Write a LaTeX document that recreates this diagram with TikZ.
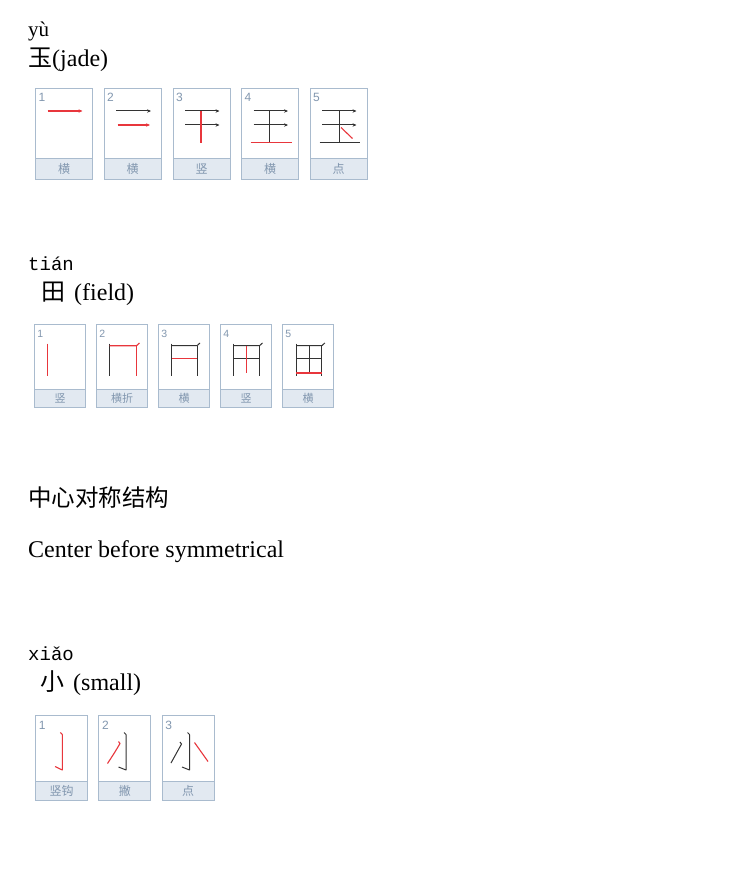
\documentclass[tikz,border=0pt]{standalone}
\usepackage{fontspec}
\setmainfont{Liberation Serif}
\newfontfamily\cjk{Noto Sans CJK SC}
\newfontfamily\pinyinfont{Liberation Mono}
\newfontfamily\numfont{Liberation Sans}
\usetikzlibrary{arrows.meta}

\definecolor{framecol}{HTML}{A9BBCE}
\definecolor{bandcol}{HTML}{E2E9F1}
\definecolor{labcol}{HTML}{8297AF}
\definecolor{inkred}{HTML}{E8363C}
\definecolor{inkblack}{HTML}{333333}

\begin{document}
\begin{tikzpicture}[x=1pt, y=-1pt,
    card/.style={draw=framecol, fill=white, line width=0.9pt, inner sep=0pt, outer sep=0pt},
    band/.style={draw=framecol, fill=bandcol, line width=0.9pt, inner sep=0pt, outer sep=0pt, text=labcol},
    num/.style={anchor=north west, inner sep=0pt, text=labcol, font=\numfont\fontsize{12}{12}\selectfont},
    head/.style={anchor=base west, inner sep=0pt, font=\fontsize{24}{24}\selectfont},
    redink/.style={draw=inkred, line width=1.1pt},
    blackink/.style={draw=inkblack, line width=1pt},
    tip/.style={-{Stealth[length=4pt, width=3.4pt]}}]
    \useasboundingbox (0,0) rectangle (740,872);
    % 玉 (jade)
    \node [anchor=base west, inner sep=0pt, font=\fontsize{21}{21}\selectfont] (yuPy) at (28,37) {yù};
    \node [head] (yuHead) at (28,67) {{\cjk 玉}(jade)};
    \begin{scope}[every node/.append style={minimum width=57pt}, font=\cjk\fontsize{12}{12}\selectfont]
    \node [card, minimum height=91pt] (yu1) at (64,133.5) {};
    \node [card, minimum height=91pt] (yu2) at (132.5,133.5) {};
    \node [card, minimum height=91pt] (yu3) at (201.5,133.5) {};
    \node [card, minimum height=91pt] (yu4) at (270,133.5) {};
    \node [card, minimum height=91pt] (yu5) at (338.5,133.5) {};
    \node [band, minimum height=21pt, anchor=south] (yu1b) at (yu1.south) {横};
    \node [band, minimum height=21pt, anchor=south] (yu2b) at (yu2.south) {横};
    \node [band, minimum height=21pt, anchor=south] (yu3b) at (yu3.south) {竖};
    \node [band, minimum height=21pt, anchor=south] (yu4b) at (yu4.south) {横};
    \node [band, minimum height=21pt, anchor=south] (yu5b) at (yu5.south) {点};
    \end{scope}
    \node [num] at ([shift={(3,5)}]yu1.north west) {1};
    \node [num] at ([shift={(3,5)}]yu2.north west) {2};
    \node [num] at ([shift={(3,5)}]yu3.north west) {3};
    \node [num] at ([shift={(3,5)}]yu4.north west) {4};
    \node [num] at ([shift={(3,5)}]yu5.north west) {5};
    % yu strokes
    \draw [redink, tip]   (47.5,111) -- (82.5,111);
    \draw [blackink, tip] (116,111) -- (151,111);
    \draw [redink, tip]   (117.5,125) -- (150,125);
    \draw [blackink, tip] (185,111) -- (219.5,111);
    \draw [blackink, tip] (185,125) -- (219.5,125);
    \draw [redink]        (201,111.5) -- (201,142.5);
    \draw [blackink, tip] (253.5,111) -- (288,111);
    \draw [blackink, tip] (253.5,125) -- (288,125);
    \draw [blackink]      (269.5,111) -- (269.5,142);
    \draw [redink]        (250.5,142.5) -- (291.5,142.5);
    \draw [blackink, tip] (322,111) -- (356.5,111);
    \draw [blackink, tip] (322,125) -- (356.5,125);
    \draw [blackink]      (339.5,111) -- (339.5,142);
    \draw [blackink]      (319.5,142.5) -- (359.5,142.5);
    \draw [redink]        (341,127.5) -- (352.5,138.5);

    % 田 (field)
    \node [anchor=base west, inner sep=0pt, font=\pinyinfont\fontsize{19}{19}\selectfont] (tianPy) at (28,270) {tián};
    \node [head] (tianHead) at (28,300) {\hspace*{13pt}{\cjk 田}\hspace{9pt}(field)};
    \begin{scope}[every node/.append style={minimum width=51.5pt}, font=\cjk\fontsize{11}{11}\selectfont]
    \node [card, minimum height=83pt] (tian1) at (60,366) {};
    \node [card, minimum height=83pt] (tian2) at (122,366) {};
    \node [card, minimum height=83pt] (tian3) at (184,366) {};
    \node [card, minimum height=83pt] (tian4) at (246,366) {};
    \node [card, minimum height=83pt] (tian5) at (308,366) {};
    \node [band, minimum height=18pt, anchor=south] (tian1b) at (tian1.south) {竖};
    \node [band, minimum height=18pt, anchor=south] (tian2b) at (tian2.south) {横折};
    \node [band, minimum height=18pt, anchor=south] (tian3b) at (tian3.south) {横};
    \node [band, minimum height=18pt, anchor=south] (tian4b) at (tian4.south) {竖};
    \node [band, minimum height=18pt, anchor=south] (tian5b) at (tian5.south) {横};
    \end{scope}
    \begin{scope}[num/.append style={font=\numfont\fontsize{10.5}{10.5}\selectfont}]
    \node [num] at ([shift={(3,5.5)}]tian1.north west) {1};
    \node [num] at ([shift={(3,5.5)}]tian2.north west) {2};
    \node [num] at ([shift={(3,5.5)}]tian3.north west) {3};
    \node [num] at ([shift={(3,5.5)}]tian4.north west) {4};
    \node [num] at ([shift={(3,5.5)}]tian5.north west) {5};
    \end{scope}
    % tian strokes
    \draw [redink]   (47.7,343.5) -- (47.7,375.5);
    \draw [blackink] (109.7,343.5) -- (109.7,375.5);
    \draw [redink]   (109.7,345.7) -- (136.5,345.7) -- (139.5,343);
    \draw [redink]   (136.5,345.7) -- (136.5,375.5);
    \draw [blackink] (171.7,343.5) -- (171.7,375.5);
    \draw [blackink] (171.7,345.7) -- (197,345.7) -- (200,343);
    \draw [blackink] (197,345.7) -- (197,375.5);
    \draw [redink]   (171.7,358.7) -- (197,358.7);
    \draw [blackink] (233.7,343.5) -- (233.7,375.5);
    \draw [blackink] (233.7,345.7) -- (259.5,345.7) -- (262.5,343);
    \draw [blackink] (259.5,345.7) -- (259.5,375.5);
    \draw [blackink] (233.7,358.7) -- (259.5,358.7);
    \draw [redink]   (246.7,345.7) -- (246.7,372.7);
    \draw [blackink] (296,343.5) -- (296,375.5);
    \draw [blackink] (296,345.7) -- (321.8,345.7) -- (324.8,343);
    \draw [blackink] (321.8,345.7) -- (321.8,375.5);
    \draw [blackink] (296,358.7) -- (321.8,358.7);
    \draw [blackink] (309,345.7) -- (309,373.3);
    \draw [redink, line width=1.8pt] (296,373.3) -- (321.8,373.3);

    % 中心对称结构
    \node [head, font=\cjk\fontsize{23.5}{23.5}\selectfont] (ruleCn) at (28,506) {中心对称结构};
    \node [head] (ruleEn) at (28,557) {Center before symmetrical};

    % 小 (small)
    \node [anchor=base west, inner sep=0pt, font=\pinyinfont\fontsize{19}{19}\selectfont] (xiaoPy) at (28,660) {xiǎo};
    \node [head] (xiaoHead) at (28,690) {\hspace*{12pt}{\cjk 小}\hspace{9pt}(small)};
    \begin{scope}[every node/.append style={minimum width=52pt}, font=\cjk\fontsize{12}{12}\selectfont]
    \node [card, minimum height=84.5pt] (xiao1) at (61.7,757.75) {};
    \node [card, minimum height=84.5pt] (xiao2) at (124.9,757.75) {};
    \node [card, minimum height=84.5pt] (xiao3) at (188.1,757.75) {};
    \node [band, minimum height=19pt, anchor=south] (xiao1b) at (xiao1.south) {竖钩};
    \node [band, minimum height=19pt, anchor=south] (xiao2b) at (xiao2.south) {撇};
    \node [band, minimum height=19pt, anchor=south] (xiao3b) at (xiao3.south) {点};
    \end{scope}
    \node [num] at ([shift={(3,5.5)}]xiao1.north west) {1};
    \node [num] at ([shift={(3,5.5)}]xiao2.north west) {2};
    \node [num] at ([shift={(3,5.5)}]xiao3.north west) {3};
    % xiao strokes
    \draw [redink, line join=round]   (60.3,732.5) -- (62.3,734.5) -- (62.3,770) -- (55,766.5);
    \draw [blackink, line join=round] (124,732.5) -- (126,734.5) -- (126,770) -- (118.5,767);
    \draw [redink]   (118.5,741.5) -- (120,743.5) .. controls (115,752) .. (107.5,763.5);
    \draw [blackink, line join=round] (187.5,732.5) -- (189.5,734.5) -- (189.5,770) -- (182,767);
    \draw [blackink] (180,742) -- (181.5,744) .. controls (177,753) .. (171,763);
    \draw [redink]   (194.5,742.5) -- (208,761.5);
  \end{tikzpicture}
\end{document}
